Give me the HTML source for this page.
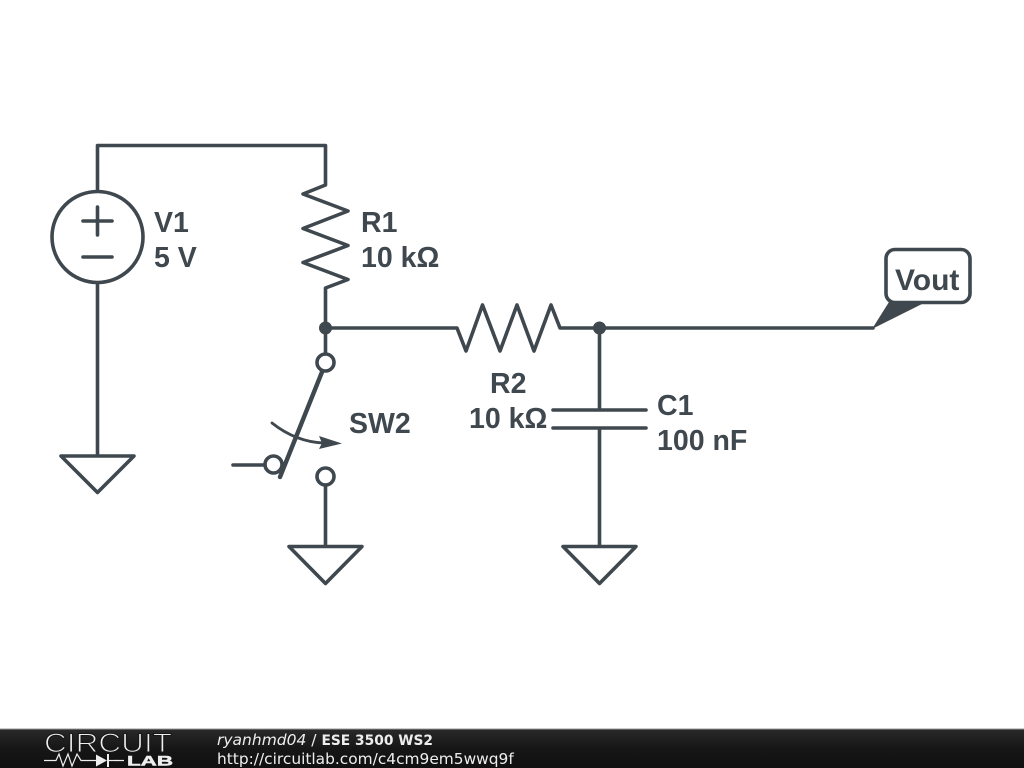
<!DOCTYPE html>
<html><head><meta charset="utf-8"><style>
html,body{margin:0;padding:0;background:#fff;width:1024px;height:768px;overflow:hidden}
svg{display:block}
</style></head><body>
<svg width="1024" height="768" viewBox="0 0 1024 768" xmlns="http://www.w3.org/2000/svg">
<defs><linearGradient id="bar" x1="0" y1="0" x2="0" y2="1"><stop offset="0" stop-color="#2a2a2a"/><stop offset="0.5" stop-color="#161616"/><stop offset="1" stop-color="#101010"/></linearGradient></defs>
<rect width="1024" height="768" fill="#fff"/>
<g fill="none" stroke="#3f484e" stroke-width="3.6" stroke-linecap="round" stroke-linejoin="round">
<path d="M97.500 191V145.500H325.500V185L303 194L348 211L303 228.500L348 245.500L303 262.500L348 279.500L325.500 288V328H457L466 351L482.500 305L500 351L517 305L534 351L551 305L560 328H873"/>
<circle cx="97.500" cy="237" r="45.500"/>
<path d="M83 221H112M97.500 207V235M83 257H112"/>
<path d="M97.500 283V456M61 456H134L97.500 492.500Z"/>
<path d="M325.500 328V354"/>
<circle cx="325.500" cy="362.500" r="8.500"/>
<circle cx="273.500" cy="464.500" r="8.500"/>
<circle cx="325.500" cy="476.500" r="8.500"/>
<path d="M233 465H265M325.500 485V546.500M289 546.500H362L325.500 583.500Z"/>
<path d="M322 372L280 477" stroke-width="4.400"/>
<path d="M272 423Q296 442 324 443" stroke-width="2.800"/>
<path d="M599.500 328V410M553 410H646M553 428H646M599.500 428V546.500M563 546.500H636L599.500 583.500Z"/>
<rect x="886" y="249.500" width="84" height="53" rx="9"/>
</g>
<g fill="#3f484e">
<path d="M319 436L342 443.500L319 449L322 443Z"/>
<circle cx="325.500" cy="328" r="6.500"/>
<circle cx="599.500" cy="328" r="6.500"/>
<path d="M872 329L889 302H926Z"/>
</g>
<g font-family="'Liberation Sans',sans-serif" font-weight="700" font-size="28.500" fill="#3f484e">
<text x="154" y="232">V1</text>
<text x="154" y="267">5 V</text>
<text x="361" y="232">R1</text>
<text x="361" y="267">10 kΩ</text>
<text x="490" y="393">R2</text>
<text x="469" y="428">10 kΩ</text>
<text x="657" y="415">C1</text>
<text x="657" y="450">100 nF</text>
<text x="349" y="433">SW2</text>
<text x="895" y="290" font-size="30">Vout</text>
</g>
<rect y="729" width="1024" height="39" fill="url(#bar)"/>
<rect y="728.500" width="1024" height="1" fill="#999"/>
<text x="44" y="752" font-family="'Liberation Sans',sans-serif" font-size="26.500" fill="#eee" stroke="#181818" stroke-width="1.100" textLength="128" lengthAdjust="spacingAndGlyphs">CIRCUIT</text>
<path d="M44 760.500H56L59 754L63 766L68 754L72 766L77 754L81 760.500H96M115 760.500H124" fill="none" stroke="#eee" stroke-width="1.200"/>
<path d="M96 754.500L107 760.500L96 766.500Z" fill="#eee"/>
<path d="M108 754V767" stroke="#eee" stroke-width="2"/>
<path d="M108 760.500H116" stroke="#eee" stroke-width="1.200"/>
<text x="127" y="765.500" font-family="'Liberation Sans',sans-serif" font-weight="700" font-size="14" fill="#eee" stroke="#eee" stroke-width="0.500" textLength="46" lengthAdjust="spacingAndGlyphs">LAB</text>
<g font-family="'DejaVu Sans',sans-serif" fill="#eee">
<text x="217" y="745" font-size="15.500"><tspan font-style="italic">ryanhmd04</tspan> / <tspan font-weight="700" font-size="13.800">ESE 3500 WS2</tspan></text>
<text x="217" y="764" font-size="15.400">http://circuitlab.com/c4cm9em5wwq9f</text>
</g>
</svg>
</body></html>
